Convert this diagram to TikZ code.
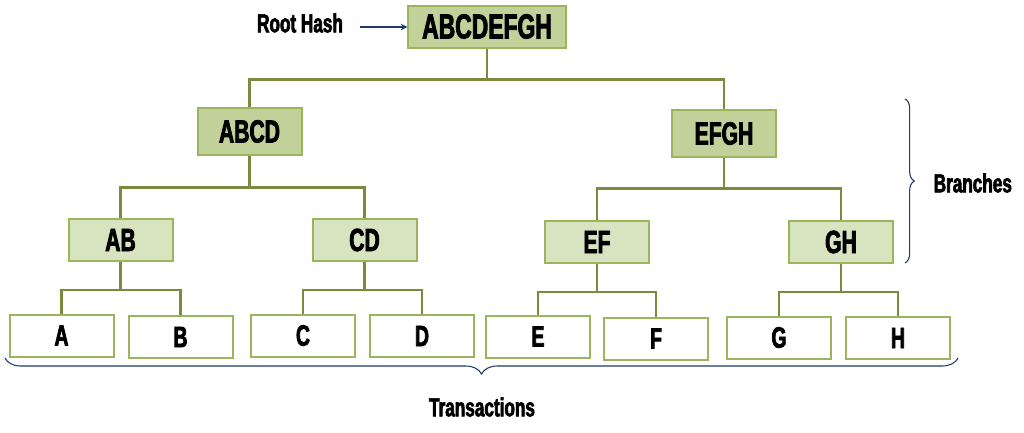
\documentclass[tikz,border=0pt]{standalone}
\usepackage{fontspec}
\setmainfont{Liberation Sans}[FakeStretch=0.66,FakeBold=2.5]
\usetikzlibrary{decorations.pathreplacing}
\definecolor{fillA}{HTML}{C2D19A}
\definecolor{fillB}{HTML}{D8E4BF}
\definecolor{bord}{HTML}{9BB55A}
\definecolor{conn}{HTML}{7A8B40}
\definecolor{navy}{HTML}{1F3A6E}
\begin{document}
\begin{tikzpicture}[x=0.75pt,y=-0.75pt,
  box/.style={draw=bord,line width=1.5pt,minimum height=31.5pt,inner sep=0pt,font=\fontsize{24}{24}\selectfont\bfseries},
  top/.style={box,fill=fillA},
  mid/.style={box,fill=fillB,minimum width=78pt},
  leaf/.style={box,fill=white,minimum width=78pt,font=\fontsize{22}{22}\selectfont\bfseries},
  link/.style={draw=conn,line width=2.2pt},
  lbl/.style={font=\fontsize{19.5}{19.5}\selectfont\bfseries},
  brace/.style={draw=navy,line width=0.8pt,decorate}]
\useasboundingbox (0,0) rectangle (1024,432);
\node[top,minimum width=118pt,font=\fontsize{26}{26}\selectfont\bfseries] (root) at (487,26.5) {ABCDEFGH};
\node[top,minimum width=78pt,minimum height=35pt] (abcd) at (249.5,131.5) {ABCD};
\node[top,minimum width=78pt,minimum height=35pt] (efgh) at (724,133.5) {EFGH};
\node[mid] (ab) at (120.5,240) {AB};
\node[mid] (cd) at (364.5,240) {CD};
\node[mid] (ef) at (597,242) {EF};
\node[mid] (gh) at (841,242) {GH};
\node[leaf] (a) at (61.5,335.5) {A};
\node[leaf] (b) at (180.5,337) {B};
\node[leaf] (c) at (303,335.5) {C};
\node[leaf] (d) at (422,336) {D};
\node[leaf] (e) at (538,336.5) {E};
\node[leaf] (f) at (656,338.5) {F};
\node[leaf] (g) at (779,337.5) {G};
\node[leaf] (h) at (898,338) {H};
\draw[link] (root.south) -- ++(0,31) -| (abcd.north);
\draw[link] (root.south) ++(0,31) -| (efgh.north);
\draw[link] (abcd.south) -- ++(0,32) -| (ab.north);
\draw[link] (abcd.south) ++(0,32) -| (cd.north);
\draw[link] (efgh.south) -- ++(0,31) -| (ef.north);
\draw[link] (efgh.south) ++(0,31) -| (gh.north);
\draw[link] (ab.south) -- ++(0,28) -| (a.north);
\draw[link] (ab.south) ++(0,28) -| (b.north);
\draw[link] (cd.south) -- ++(0,28) -| (c.north);
\draw[link] (cd.south) ++(0,28) -| (d.north);
\draw[link] (ef.south) -- ++(0,28) -| (e.north);
\draw[link] (ef.south) ++(0,28) -| (f.north);
\draw[link] (gh.south) -- ++(0,28) -| (g.north);
\draw[link] (gh.south) ++(0,28) -| (h.north);
\node[lbl] (rh) at (300,23) {Root Hash};
\draw[navy,line width=1.2pt,-stealth] (rh.east) ++(12,4) -- (root.west |- 0,27);
\coordinate (b1) at (905,99);
\coordinate (b2) at (905,263);
\draw[brace,decoration={brace,amplitude=7pt}] (b1) -- (b2);
\node[lbl,anchor=west] (br) at (929,183) {Branches};
\coordinate (t1) at (958,358);
\coordinate (t2) at (5,358);
\draw[brace,decoration={brace,amplitude=12pt}] (t1) -- (t2);
\node[lbl] (tr) at (482,407) {Transactions};
\end{tikzpicture}
\end{document}
